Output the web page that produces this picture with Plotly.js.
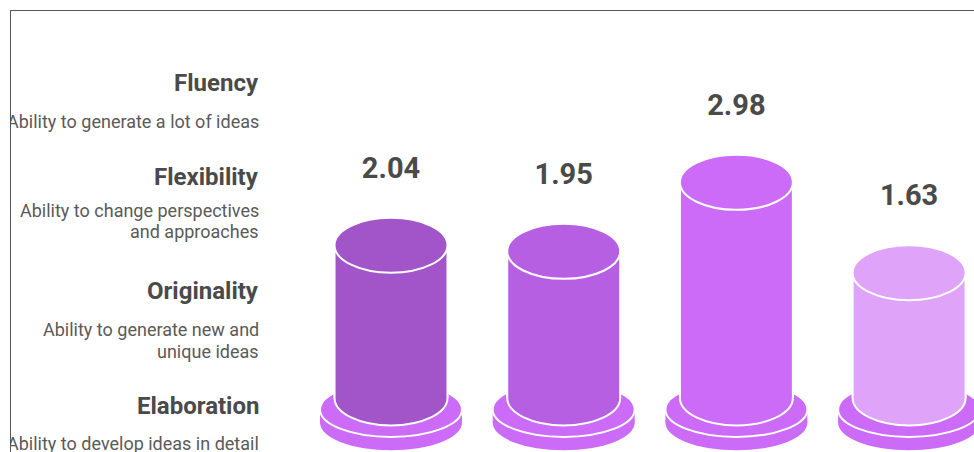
<!DOCTYPE html>
<html>
<head>
<meta charset="utf-8">
<script src="https://cdn.plot.ly/plotly-3.0.1.min.js"></script>
<style>
  html, body { margin: 0; padding: 0; background: #ffffff; width: 974px; height: 452px; overflow: hidden; }
  #frame { position: absolute; left: 10px; top: 10px; width: 964px; height: 442px;
           border-top: 1px solid #555555; border-left: 1px solid #555555; overflow: hidden; }
  #chart { width: 963px; height: 441px; }
</style>
</head>
<body>
<div id="frame"><div id="chart"></div></div>
<script>
// ---- data ----
const categories = ["Fluency", "Flexibility", "Originality", "Elaboration"];
const descriptions = [
  ["Ability to generate a lot of ideas"],
  ["Ability to change perspectives", "and approaches"],
  ["Ability to generate new and", "unique ideas"],
  ["Ability to develop ideas in detail"]
];
const values = [2.04, 1.95, 2.98, 1.63];
const bodyColors = ["#a155c9", "#b75fe2", "#cc6bf8", "#e0a3fa"];
const discColor = "#cc6bf8";

// ---- geometry (in axis units) ----
const BODY_BASE = -0.239;   // centre of body bottom ellipse
const BODY_W = 0.654;       // body width (category units)
const DISC_RX = 0.411;
const RY = 0.41;            // ellipse half-height (value units)
const DISC_TOP = -0.41;
const DISC_BOT = -0.61;
const LABEL_OFF = 1.12;

const shapes = [];
values.forEach((v, i) => {
  // base disc
  shapes.push({type: "circle", layer: "below", xref: "x", yref: "y",
    x0: i - DISC_RX, x1: i + DISC_RX, y0: DISC_BOT - RY, y1: DISC_BOT + RY,
    fillcolor: discColor, line: {width: 0}});
  shapes.push({type: "rect", layer: "below", xref: "x", yref: "y",
    x0: i - DISC_RX, x1: i + DISC_RX, y0: DISC_BOT, y1: DISC_TOP,
    fillcolor: discColor, line: {width: 0}});
  shapes.push({type: "circle", layer: "below", xref: "x", yref: "y",
    x0: i - DISC_RX, x1: i + DISC_RX, y0: DISC_TOP - RY, y1: DISC_TOP + RY,
    fillcolor: discColor, line: {color: "#ffffff", width: 2}});
  // body bottom
  shapes.push({type: "circle", layer: "below", xref: "x", yref: "y",
    x0: i - BODY_W / 2, x1: i + BODY_W / 2, y0: BODY_BASE - RY, y1: BODY_BASE + RY,
    fillcolor: bodyColors[i], line: {color: "#ffffff", width: 2}});
});
values.forEach((v, i) => {
  // body side outlines
  [-1, 1].forEach(s => shapes.push({type: "line", layer: "above", xref: "x", yref: "y",
    x0: i + s * BODY_W / 2, x1: i + s * BODY_W / 2, y0: BODY_BASE, y1: v,
    line: {color: "#ffffff", width: 2}}));
  // top ellipse
  shapes.push({type: "circle", layer: "above", xref: "x", yref: "y",
    x0: i - BODY_W / 2, x1: i + BODY_W / 2, y0: v - RY, y1: v + RY,
    fillcolor: bodyColors[i], line: {color: "#ffffff", width: 2}});
});

const bodies = {
  type: "bar",
  x: categories,
  y: values.map(v => v - BODY_BASE),
  base: values.map(() => BODY_BASE),
  width: BODY_W,
  marker: {color: bodyColors, line: {width: 0}},
  hoverinfo: "skip",
  showlegend: false
};

const labels = {
  type: "scatter",
  mode: "text",
  x: categories,
  y: values.map(v => v + LABEL_OFF),
  text: values.map(v => v.toFixed(2)),
  textposition: "middle center",
  textfont: {family: "Roboto", size: 29, weight: 700, color: "#4a4a4a"},
  cliponaxis: false,
  hoverinfo: "skip",
  showlegend: false
};

// left-hand text block (page y positions of each line)
const OY = 11, H = 441;
const titleY = [83, 177, 291, 406];
const descY = [[121], [210, 232], [329, 351], [443]];
const annotations = [];
categories.forEach((c, i) => {
  annotations.push({xref: "paper", yref: "paper", x: 0, xshift: 0,
    y: 1 - (titleY[i] - OY) / H, xanchor: "right", yanchor: "middle",
    text: c, showarrow: false,
    font: {family: "Roboto", size: 24, weight: 700, color: "#4a4a4a"}});
  descriptions[i].forEach((line, k) => {
    annotations.push({xref: "paper", yref: "paper", x: 0, xshift: 0,
      y: 1 - (descY[i][k] - OY) / H, xanchor: "right", yanchor: "middle",
      text: line, showarrow: false,
      font: {family: "Roboto", size: 18, color: "#5a5a5a"}});
  });
});

const layout = {
  width: 963, height: 441,
  margin: {l: 250, r: 0, t: 0, b: 0},
  paper_bgcolor: "#ffffff", plot_bgcolor: "#ffffff",
  xaxis: {type: "category", range: [-0.7528, 3.3758], visible: false, fixedrange: true},
  yaxis: {range: [-1.045, 5.537], visible: false, fixedrange: true},
  shapes: shapes,
  annotations: annotations,
  showlegend: false,
  hovermode: false,
  bargap: 0
};

Plotly.newPlot("chart", [bodies, labels], layout, {displayModeBar: false, staticPlot: true});
</script>
</body>
</html>
